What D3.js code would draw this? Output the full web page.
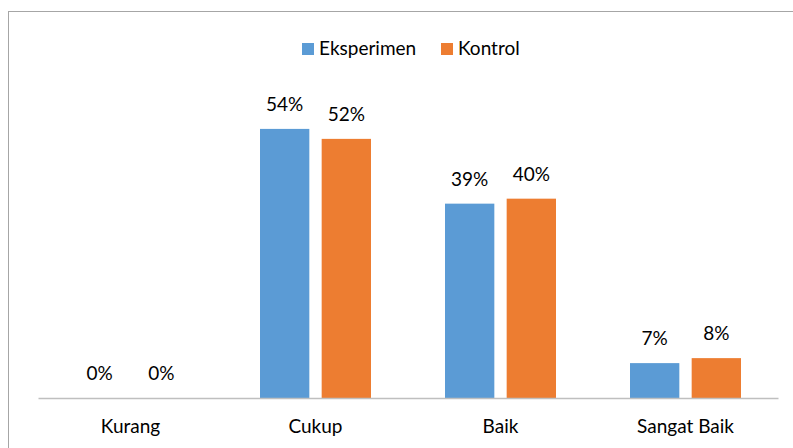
<!DOCTYPE html>
<html lang="id">
<head>
<meta charset="utf-8"/>
<script src="https://d3js.org/d3.v7.min.js"></script>
<style>
  body { margin: 0; background: #fff; }
  svg text { font-family: Lato, "Open Sans", sans-serif; fill: #000; }
</style>
</head>
<body>
<div id="chart"></div>
<script>
  // data
  var categories = ["Kurang", "Cukup", "Baik", "Sangat Baik"];
  var seriesNames = ["Eksperimen", "Kontrol"];
  var eksperimen = [0, 0.54, 0.39, 0.07];
  var kontrol = [0, 0.52, 0.40, 0.08];
  var colors = ["#5b9bd5", "#ed7d31"];

  var W = 793, H = 448;
  var plot = { left: 38, right: 778, base: 398, top: 99 };
  var fontSize = "19px";

  var svg = d3.select("#chart").append("svg")
      .attr("width", W)
      .attr("height", H);

  // outer frame (runs off the right and bottom edges)
  svg.append("rect")
    .attr("x", 8.5).attr("y", 11.5)
    .attr("width", 820).attr("height", 460)
    .attr("fill", "none")
    .attr("stroke", "#a6a6a6")
    .attr("stroke-width", 1);

  var x0 = d3.scaleBand()
    .domain(categories)
    .range([plot.left, plot.right]);

  var x1 = d3.scaleBand()
    .domain(seriesNames)
    .range([37, x0.bandwidth() - 37])
    .paddingInner(0.2);

  var y = d3.scaleLinear()
    .domain([0, 0.6])
    .range([plot.base, plot.top]);

  var rows = categories.map(function(c, i) {
    return { cat: c, values: [eksperimen[i], kontrol[i]] };
  });

  var groups = svg.selectAll(".grp")
    .data(rows)
    .enter().append("g")
      .attr("class", "grp")
      .attr("transform", function(d) { return "translate(" + x0(d.cat) + ",0)"; });

  groups.selectAll("rect")
    .data(function(d) { return d.values.map(function(v, j) { return { s: seriesNames[j], v: v, j: j }; }); })
    .enter().append("rect")
      .attr("x", function(d) { return x1(d.s); })
      .attr("y", function(d) { return y(d.v); })
      .attr("width", x1.bandwidth())
      .attr("height", function(d) { return y(0) - y(d.v); })
      .attr("fill", function(d) { return colors[d.j]; });

  groups.selectAll(".lbl")
    .data(function(d) { return d.values.map(function(v, j) { return { s: seriesNames[j], v: v }; }); })
    .enter().append("text")
      .attr("class", "lbl")
      .attr("x", function(d) { return x1(d.s) + x1.bandwidth() / 2; })
      .attr("y", function(d) { return y(d.v) - 18; })
      .attr("text-anchor", "middle")
      .style("font-size", fontSize)
      .text(function(d) { return d3.format(".0%")(d.v); });

  // category axis
  var xAxis = svg.append("g")
    .attr("transform", "translate(0," + plot.base + ")")
    .call(d3.axisBottom(x0).tickSize(0));
  xAxis.select(".domain").attr("stroke", "#bfbfbf").attr("stroke-width", 1.5);
  xAxis.selectAll("text")
    .style("font-size", fontSize)
    .attr("font-family", null)
    .attr("y", 35)
    .attr("dy", 0);

  // legend
  var legendX = [302, 441];
  var legend = svg.selectAll(".leg")
    .data(seriesNames)
    .enter().append("g")
      .attr("class", "leg")
      .attr("transform", function(d, i) { return "translate(" + legendX[i] + ",43)"; });
  legend.append("rect")
    .attr("width", 12).attr("height", 12)
    .attr("fill", function(d, i) { return colors[i]; });
  legend.append("text")
    .attr("x", 17).attr("y", 12)
    .style("font-size", fontSize)
    .text(function(d) { return d; });
</script>
</body>
</html>
